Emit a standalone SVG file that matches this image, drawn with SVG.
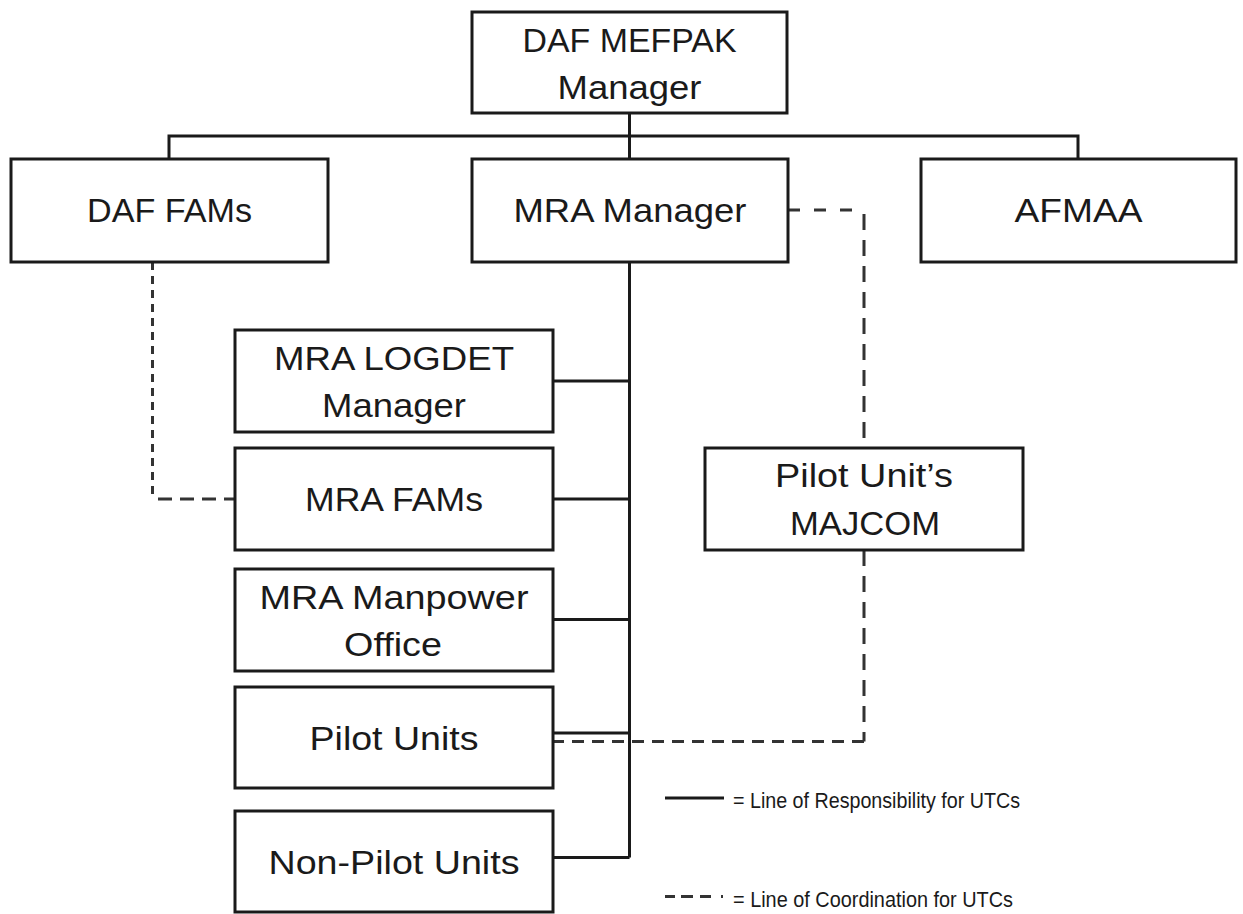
<svg xmlns="http://www.w3.org/2000/svg" width="1243" height="914" viewBox="0 0 1243 914">
<style>
.box{fill:#fff;stroke:#1a1a1a;stroke-width:3}
.t{font-family:"Liberation Sans",Arial,sans-serif;font-size:33px;fill:#1a1a1a;text-anchor:middle}
.lg{font-family:"Liberation Sans",Arial,sans-serif;font-size:22px;fill:#1a1a1a}
.s{fill:none;stroke:#1a1a1a;stroke-width:3}
.d{fill:none;stroke:#333;stroke-width:3}
</style>
<rect width="1243" height="914" fill="#fff"/>
<g id="connectors">
<path class="s" d="M169 159V136H1078V159M629.5 113V159M629.5 262V857.5"/>
<path class="s" d="M553 381H629.5M553 499H629.5M553 619.5H629.5M553 733H629.5M553 857.5H629.5"/>
<path class="d" stroke-dasharray="8 6" d="M152.5 262V499"/>
<path class="d" stroke-dasharray="14 8" d="M158 499H235"/>
<path class="d" stroke-dasharray="12 14" d="M788 210H864"/>
<path class="d" stroke-dasharray="16 10" d="M864 214V448"/>
<path class="d" stroke-dasharray="16 10" d="M864 550V741.5"/>
<path class="d" stroke-dasharray="12 8" d="M864 741.5H553"/>
</g>
<g id="n-top"><rect class="box" x="472" y="12" width="315" height="101"/>
<text class="t" x="629.5" y="51.5" textLength="214" lengthAdjust="spacingAndGlyphs">DAF MEFPAK</text>
<text class="t" x="629.5" y="99" textLength="144" lengthAdjust="spacingAndGlyphs">Manager</text></g>
<g id="n-daffams"><rect class="box" x="11" y="159" width="317" height="103"/>
<text class="t" x="169.5" y="222" textLength="165" lengthAdjust="spacingAndGlyphs">DAF FAMs</text></g>
<g id="n-mramgr"><rect class="box" x="472" y="159" width="316" height="103"/>
<text class="t" x="630" y="222" textLength="233" lengthAdjust="spacingAndGlyphs">MRA Manager</text></g>
<g id="n-afmaa"><rect class="box" x="921" y="159" width="315" height="103"/>
<text class="t" x="1078.5" y="222" textLength="128" lengthAdjust="spacingAndGlyphs">AFMAA</text></g>
<g id="n-logdet"><rect class="box" x="235" y="330" width="318" height="102"/>
<text class="t" x="394" y="369.5" textLength="240" lengthAdjust="spacingAndGlyphs">MRA LOGDET</text>
<text class="t" x="394" y="417" textLength="144" lengthAdjust="spacingAndGlyphs">Manager</text></g>
<g id="n-mrafams"><rect class="box" x="235" y="448" width="318" height="102"/>
<text class="t" x="394" y="511" textLength="178" lengthAdjust="spacingAndGlyphs">MRA FAMs</text></g>
<g id="n-manpower"><rect class="box" x="235" y="569" width="318" height="102"/>
<text class="t" x="394" y="608.5" textLength="269" lengthAdjust="spacingAndGlyphs">MRA Manpower</text>
<text class="t" x="393" y="656" textLength="98" lengthAdjust="spacingAndGlyphs">Office</text></g>
<g id="n-pilot"><rect class="box" x="235" y="687" width="318" height="101"/>
<text class="t" x="394" y="750" textLength="169" lengthAdjust="spacingAndGlyphs">Pilot Units</text></g>
<g id="n-nonpilot"><rect class="box" x="235" y="811" width="318" height="101"/>
<text class="t" x="394" y="873.5" textLength="251" lengthAdjust="spacingAndGlyphs">Non-Pilot Units</text></g>
<g id="n-majcom"><rect class="box" x="705" y="448" width="318" height="102"/>
<text class="t" x="864" y="487" textLength="178" lengthAdjust="spacingAndGlyphs">Pilot Unit’s</text>
<text class="t" x="865" y="535" textLength="150" lengthAdjust="spacingAndGlyphs">MAJCOM</text></g>
<g id="legend">
<path class="s" d="M665 798H724"/>
<path class="d" d="M665 896.5H675M681 896.5H693M700 896.5H711M721 896.5H723"/>
<text class="lg" x="733" y="808" textLength="287" lengthAdjust="spacingAndGlyphs">= Line of Responsibility for UTCs</text>
<text class="lg" x="733" y="906.5" textLength="280" lengthAdjust="spacingAndGlyphs">= Line of Coordination for UTCs</text>
</g>
</svg>
